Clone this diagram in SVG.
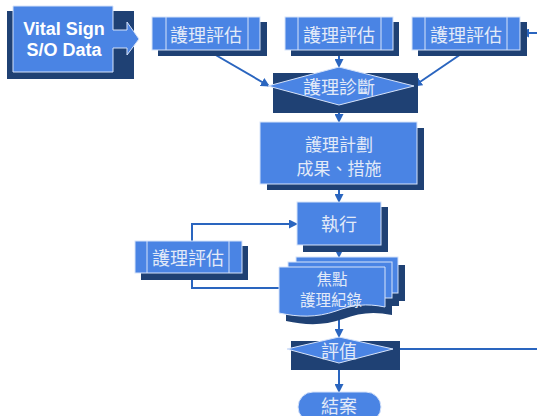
<svg xmlns="http://www.w3.org/2000/svg" width="537" height="416" viewBox="0 0 537 416">
  <style>
    .fill { fill: #4a84e4; stroke: #d6e3fa; stroke-width: 1; }
    .shadow { fill: #1f4174; }
    .strip { stroke: #d6e3fa; stroke-width: 1; fill: none; }
    .label { font-family: "Noto Sans CJK TC", "Noto Sans CJK SC", sans-serif; font-size: 18px; fill: #e2eaf8; text-anchor: middle; dominant-baseline: central; }
    .small { font-size: 17px; }
    .doc { font-size: 15.5px; }
    .vital { font-family: "Liberation Sans", Arial, sans-serif; font-weight: bold; font-size: 18px; fill: #ffffff; text-anchor: middle; }
    .conn { stroke: #2a65bf; stroke-width: 2; fill: none; }
  </style>
  <defs>
    <marker id="arrow" markerUnits="userSpaceOnUse" markerWidth="9" markerHeight="9" refX="8" refY="4.5" orient="auto">
      <path d="M0,0 L9,4.5 L0,9 z" fill="#2a65bf"/>
    </marker>
  </defs>
  <rect width="537" height="416" fill="#ffffff"/>

  <!-- connectors -->
  <g id="connectors">
    <line class="conn" x1="207" y1="50" x2="269" y2="86" marker-end="url(#arrow)"/>
    <line class="conn" x1="339" y1="50" x2="339" y2="67" marker-end="url(#arrow)"/>
    <line class="conn" x1="467" y1="50" x2="414" y2="86" marker-end="url(#arrow)"/>
    <line class="conn" x1="537" y1="33" x2="521" y2="33" marker-end="url(#arrow)"/>
    <line class="conn" x1="339" y1="105" x2="339" y2="122" marker-end="url(#arrow)"/>
    <line class="conn" x1="339" y1="190" x2="339" y2="202" marker-end="url(#arrow)"/>
    <line class="conn" x1="339" y1="245" x2="339" y2="257" marker-end="url(#arrow)"/>
    <path class="conn" d="M192,241 V224 H297" marker-end="url(#arrow)"/>
    <path class="conn" d="M192,273 V288 H279"/>
    <line class="conn" x1="339" y1="316" x2="339" y2="337" marker-end="url(#arrow)"/>
    <path class="conn" d="M393,349 H537"/>
    <line class="conn" x1="339" y1="363" x2="339" y2="392" marker-end="url(#arrow)"/>
  </g>

  <!-- Vital Sign S/O Data -->
  <g id="vital-sign">
    <rect class="shadow" x="7" y="11" width="127" height="68"/>
    <polygon class="fill" points="13,6 113,6 113,30 127,30 127,22 139,39 127,55 127,48 113,48 113,72 13,72"/>
    <text class="vital" x="64" y="35">Vital Sign</text>
    <text class="vital" x="64" y="56">S/O Data</text>
  </g>

  <!-- assessment boxes, top row -->
  <g id="assess-1">
    <rect class="shadow" x="158" y="22" width="109" height="34"/>
    <rect class="fill" x="152" y="17" width="108" height="33"/>
    <path class="strip" d="M166,17 V50 M248,17 V50"/>
    <text class="label" x="206" y="34">護理評估</text>
  </g>
  <g id="assess-2">
    <rect class="shadow" x="291" y="22" width="108" height="34"/>
    <rect class="fill" x="285" y="17" width="108" height="33"/>
    <path class="strip" d="M298,17 V50 M381,17 V50"/>
    <text class="label" x="339" y="34">護理評估</text>
  </g>
  <g id="assess-3">
    <rect class="shadow" x="418" y="22" width="109" height="34"/>
    <rect class="fill" x="412" y="17" width="108" height="33"/>
    <path class="strip" d="M425,17 V50 M507,17 V50"/>
    <text class="label" x="466" y="34">護理評估</text>
  </g>

  <!-- diagnosis decision -->
  <g id="diagnosis">
    <rect class="shadow" x="273" y="73" width="145" height="40"/>
    <polygon class="fill" points="268,86 339,67 414,86 339,105"/>
    <text class="label" x="339" y="86">護理診斷</text>
  </g>

  <!-- care plan -->
  <g id="plan">
    <rect class="shadow" x="267" y="128" width="157" height="62"/>
    <rect class="fill" x="260" y="122" width="157" height="62"/>
    <text class="label small" x="339" y="143">護理計劃</text>
    <text class="label small" x="339" y="167">成果、措施</text>
  </g>

  <!-- implementation -->
  <g id="implement">
    <rect class="shadow" x="303" y="207" width="85" height="45"/>
    <rect class="fill" x="297" y="202" width="84" height="43"/>
    <text class="label" x="339" y="223">執行</text>
  </g>

  <!-- left assessment box -->
  <g id="assess-4">
    <rect class="shadow" x="141" y="246" width="107" height="34"/>
    <rect class="fill" x="135" y="241" width="107" height="32"/>
    <path class="strip" d="M147,241 V273 M229,241 V273"/>
    <text class="label" x="188" y="257">護理評估</text>
  </g>

  <!-- focus charting, stacked documents -->
  <g id="records">
    <g transform="translate(7,8)" class="shadow">
      <rect x="296" y="257" width="102" height="36"/>
      <rect x="288" y="262" width="104" height="36"/>
      <path d="M279,267 H385 V307 C366,303 352,305 336,311 C316,318 298,317 279,313 Z"/>
    </g>
    <rect class="fill" x="296" y="257" width="102" height="36"/>
    <rect class="fill" x="288" y="262" width="104" height="36"/>
    <path class="fill" d="M279,267 H385 V307 C366,303 352,305 336,311 C316,318 298,317 279,313 Z"/>
    <text class="label doc" x="332" y="278">焦點</text>
    <text class="label doc" x="331" y="299">護理紀錄</text>
  </g>

  <!-- evaluation decision -->
  <g id="evaluate">
    <rect class="shadow" x="291" y="341" width="109" height="29"/>
    <polygon class="fill" points="287,349 339,337 393,349 339,363"/>
    <text class="label" x="339" y="350">評值</text>
  </g>

  <!-- end terminator -->
  <g id="close">
    <rect class="fill" x="298" y="392" width="83" height="30" rx="15"/>
    <text class="label" x="339" y="405">結案</text>
  </g>
</svg>
